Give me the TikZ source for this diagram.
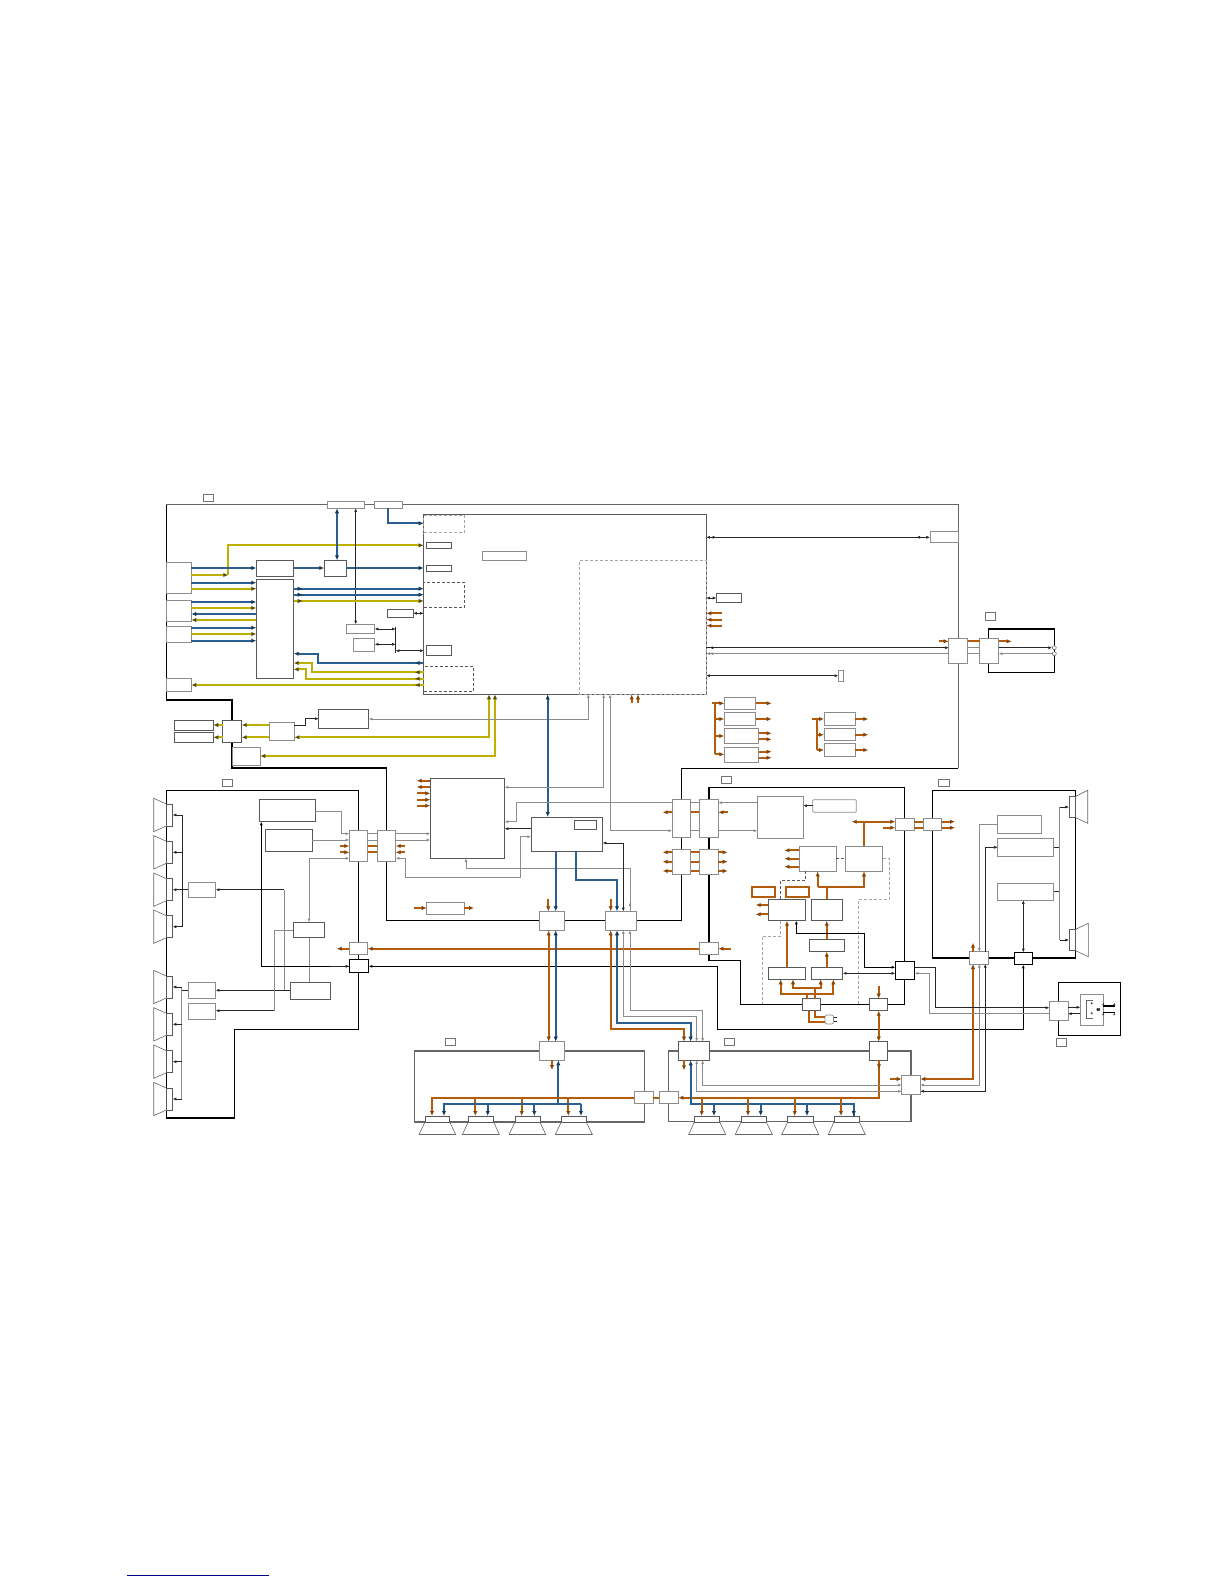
\documentclass[tikz,border=0pt]{standalone}
\usepackage{xcolor}
\usetikzlibrary{arrows.meta, fit, decorations.markings}
\definecolor{bbluec}{HTML}{2B5F91}
\definecolor{byelc}{HTML}{BFB000}
\definecolor{borgc}{HTML}{B35C0C}
\tikzset{
    >={Latex[length=3.6pt,width=3pt]},
    block/.style={rectangle, draw=black!65, fill=white, line width=0.7pt, inner sep=0pt, outer sep=0pt},
    hblock/.style={block, draw=black, line width=1pt},
    gblock/.style={block, draw=black!45},
    oblock/.style={block, draw=borgc, line width=1.8pt},
    tagbox/.style={block, draw=black!55},
    dbox/.style={rectangle, draw=black!65, densely dashed, line width=0.7pt, inner sep=0pt, outer sep=0pt},
    gdbox/.style={dbox, draw=black!35},
    mag/.style={block},
    cone/.style={draw=black!60, line width=0.6pt},
    frame/.style={draw=black, line width=1.2pt},
    gframe/.style={draw=black!60, line width=1.5pt},
    wire/.style={draw=black!85, line width=0.6pt},
    gwire/.style={draw=black!45, line width=0.8pt},
    bbus/.style={draw=bbluec, line width=1.8pt, >={Latex[length=5pt,width=4.4pt,color=bbluec!60!black]}},
    ybus/.style={draw=byelc, line width=1.7pt, >={Latex[length=5pt,width=4.4pt,color=byelc!45!black]}},
    obus/.style={draw=borgc, line width=1.8pt, >={Latex[length=5pt,width=4.4pt,color=borgc!75!black]}},
    dashw/.style={draw=black!65, densely dashed, line width=0.7pt},
    gdashw/.style={draw=black!35, densely dashed, line width=0.8pt},
    leadtip/.style={postaction={decorate, decoration={markings, mark=at position 9pt with {\arrow{>}}}}},
    dubtip/.style={postaction={decorate, decoration={markings, mark=at position 10pt with {\arrow{>}}, mark=at position -10pt with {\arrow{<}}}}},
}

\begin{document}
\begin{tikzpicture}[x=1pt, y=-1pt]
    \useasboundingbox (0,0) rectangle (1224,1584);

    \draw [gframe] (166.3,504.7) -- (958.3,504.7) -- (958.3,768.3);
    \draw [frame] (166.3,504.7) -- (166.3,700) -- (232,700) -- (232,768) -- (386.7,768) -- (386.7,920.7) -- (681.7,920.7) -- (681.7,768.3) -- (958.3,768.3);
    \draw [frame] (166.3,790.3) -- (358.7,790.3) -- (358.7,1029.3) -- (234.7,1029.3) -- (234.7,1118) -- (166.3,1118) -- cycle;
    \draw [frame] (709,787.3) -- (904.7,787.3) -- (904.7,1004.3) -- (740.7,1004.3) -- (740.7,960.3) -- (709,960.3) -- cycle;
    \draw [frame] (932.3,790.3) rectangle (1075.7,958);
    \draw [frame] (988.7,629) rectangle (1054.3,672.3);
    \draw [frame] (1058.3,982.3) rectangle (1120.7,1035.7);
    \draw [gframe] (414.3,1051) rectangle (644.3,1122);
    \draw [gframe] (668.3,1051) rectangle (911,1121.7);

    \node [tagbox, fit={(203.3,494.3) (213.7,501.7)}] (tagmain) {};
    \node [tagbox, fit={(222,779.3) (232.3,786.3)}] (tagleft) {};
    \node [tagbox, fit={(721.3,776.3) (731.7,783.7)}] (tagpower) {};
    \node [tagbox, fit={(938.7,779.3) (949,786.3)}] (tagright) {};
    \node [tagbox, fit={(985.7,612.7) (995.7,620.3)}] (tagfront) {};
    \node [tagbox, fit={(1056.7,1038.3) (1066.7,1046.3)}] (tagusb) {};
    \node [tagbox, fit={(445.3,1038.3) (455.7,1045.7)}] (tagrearl) {};
    \node [tagbox, fit={(724.7,1038) (734.7,1045.3)}] (tagrearr) {};

    \node [gblock, fit={(327.3,501.3) (364.7,508.3)}] (conna) {};
    \node [gblock, fit={(374,501.3) (402.3,508.3)}] (connb) {};
    \node [block, fit={(423.7,514.3) (706.3,694.3)}] (soc) {};
    \node [gdbox, fit={(423.7,515.7) (464.3,532.7)}] (socda) {};
    \node [dbox, fit={(423.7,582.3) (464.3,607.3)}] (socdb) {};
    \node [dbox, fit={(423.7,666.3) (473.3,691.3)}] (socdc) {};
    \node [gdbox, fit={(579,560.3) (706.3,694.3)}] (socdd) {};
    \node [block, fit={(426.7,542) (451.7,548.7)}] (pina) {};
    \node [block, fit={(426.7,565) (451.7,571.7)}] (pinb) {};
    \node [block, fit={(426.7,645.7) (451.7,655.7)}] (pinc) {};
    \node [gblock, fit={(482.7,551.3) (526.3,560.7)}] (memo) {};
    \node [block, fit={(387.3,609.3) (413.3,617.7)}] (flash) {};
    \node [gblock, fit={(346.7,624.3) (374.7,633.3)}] (rama) {};
    \node [gblock, fit={(353,638.3) (374.7,651)}] (ramb) {};
    \node [gblock, fit={(166.3,562.3) (191.3,593.3)}] (ina) {};
    \node [gblock, fit={(166.3,600.3) (191.3,621.7)}] (inb) {};
    \node [gblock, fit={(166.3,626.3) (191.3,642.3)}] (inc) {};
    \node [gblock, fit={(166.3,678.7) (191.3,691.3)}] (ind) {};
    \node [block, fit={(256.3,560.3) (293.7,576.7)}] (tuner) {};
    \node [block, fit={(256.3,579.3) (293.7,678.7)}] (hub) {};
    \node [block, fit={(324.3,560.3) (346.7,576.7)}] (sw) {};
    \node [block, fit={(174.3,720.3) (213.3,730.3)}] (outa) {};
    \node [block, fit={(174.3,732.3) (213.3,742.3)}] (outb) {};
    \node [block, fit={(222.7,720.3) (241.7,742.3)}] (drv) {};
    \node [gblock, fit={(269.3,722) (294.3,740.7)}] (dac) {};
    \node [block, fit={(318.7,709.3) (368.7,728.3)}] (ctl) {};
    \node [gblock, fit={(232.3,747) (260.3,765.3)}] (aux) {};
    \node [gblock, fit={(930,531.3) (958.3,542.7)}] (rj) {};
    \node [block, fit={(716.3,593.3) (741.7,602.3)}] (fpc) {};
    \node [gblock, fit={(838.3,670) (843.7,681.3)}] (jmp) {};
    \node [gblock, fit={(948.7,638.3) (967.7,663)}] (linka) {};
    \node [gblock, fit={(979.7,638.3) (998.7,663)}] (linkb) {};
    \node [circle, draw=black!65, fill=white, minimum size=4pt, inner sep=0pt, line width=0.5pt] (jacka) at (1054.3,647.7) {};
    \node [circle, draw=black!65, fill=white, minimum size=4pt, inner sep=0pt, line width=0.5pt] (jackb) at (1054.3,653.7) {};
    \node [gblock, fit={(724.3,697.3) (755.7,709.7)}] (rega) {};
    \node [gblock, fit={(724.3,712.7) (755.7,725.3)}] (regb) {};
    \node [gblock, fit={(724.3,728.3) (758.7,743.7)}] (regc) {};
    \node [gblock, fit={(724.3,747) (758.7,762.3)}] (regd) {};
    \node [gblock, fit={(824,712.3) (855.3,725.3)}] (rege) {};
    \node [gblock, fit={(824,728.3) (855.3,740.7)}] (regf) {};
    \node [gblock, fit={(824,743.7) (855.3,756.3)}] (regg) {};

    \node [mag, fit={(166.3,804) (172.7,826)}] (lspa) {};
    \node [mag, fit={(166.3,841.3) (172.7,863.3)}] (lspb) {};
    \node [mag, fit={(166.3,878.7) (172.7,900.7)}] (lspc) {};
    \node [mag, fit={(166.3,915.7) (172.7,937.7)}] (lspd) {};
    \node [mag, fit={(166.3,976) (172.7,998)}] (lspe) {};
    \node [mag, fit={(166.3,1013.3) (172.7,1035.3)}] (lspf) {};
    \node [mag, fit={(166.3,1050.7) (172.7,1072.7)}] (lspg) {};
    \node [mag, fit={(166.3,1088) (172.7,1110)}] (lsph) {};
    \draw [cone] (166.3,804) -- (153.7,798.3) -- (153.7,831.7) -- (166.3,826);
    \draw [cone] (166.3,841.3) -- (153.7,835.6) -- (153.7,869) -- (166.3,863.3);
    \draw [cone] (166.3,878.7) -- (153.7,873) -- (153.7,906.4) -- (166.3,900.7);
    \draw [cone] (166.3,915.7) -- (153.7,910) -- (153.7,943.4) -- (166.3,937.7);
    \draw [cone] (166.3,976) -- (153.7,970.3) -- (153.7,1003.7) -- (166.3,998);
    \draw [cone] (166.3,1013.3) -- (153.7,1007.6) -- (153.7,1041) -- (166.3,1035.3);
    \draw [cone] (166.3,1050.7) -- (153.7,1045) -- (153.7,1078.4) -- (166.3,1072.7);
    \draw [cone] (166.3,1088) -- (153.7,1082.3) -- (153.7,1115.7) -- (166.3,1110);

    \node [gblock, fit={(188,882.3) (215.7,897.7)}] (ampf) {};
    \node [gblock, fit={(188,982.7) (215.7,998.7)}] (ampr) {};
    \node [gblock, fit={(188,1003.3) (215.7,1019)}] (amps) {};
    \node [block, fit={(259.3,799.7) (315.3,821.7)}] (dspa) {};
    \node [block, fit={(265.3,829.3) (312.3,851.3)}] (dspb) {};
    \node [block, fit={(293.3,922.3) (324.3,937.7)}] (ctll) {};
    \node [block, fit={(290.3,982) (330.7,999.7)}] (pwrl) {};
    \node [gblock, fit={(349.3,830.3) (367.7,861.7)}] (cna) {};
    \node [gblock, fit={(377.3,830.3) (395.7,861.7)}] (cnb) {};
    \node [gblock, fit={(349.3,942.3) (367.7,954.7)}] (cnc) {};
    \node [hblock, fit={(349.3,959.3) (368.7,972.3)}] (cnd) {};
    \node [block, fit={(430.3,778) (504.7,858.3)}] (host) {};
    \node [block, fit={(531,817) (602.7,851.3)}] (bridge) {};
    \node [block, fit={(574.3,820.3) (596.7,829.3)}] (brmem) {};
    \node [gblock, fit={(426.7,902) (464.3,914.3)}] (filt) {};
    \node [gblock, fit={(539.7,911.3) (564.3,930.3)}] (cne) {};
    \node [gblock, fit={(605,911.3) (636.3,930.3)}] (cnf) {};
    \node [gblock, fit={(672,799.7) (690.7,837)}] (cng) {};
    \node [gblock, fit={(699.3,799.7) (718.3,837)}] (cnh) {};
    \node [gblock, fit={(672,849.3) (690.7,874.3)}] (cni) {};
    \node [gblock, fit={(699.3,849.3) (718.3,874.3)}] (cnj) {};
    \node [gblock, fit={(699.3,942.3) (718.3,954.7)}] (cnk) {};

    \node [gblock, fit={(757.3,796.7) (803.3,838.3)}] (lcd) {};
    \node [gblock, rounded corners=1pt, fit={(812.7,799.7) (856.3,812.3)}] (lcdb) {};
    \node [gblock, fit={(799.3,846.3) (836.3,871.3)}] (chg) {};
    \node [gblock, fit={(845.7,846.3) (882.7,871.3)}] (reg) {};
    \node [oblock, fit={(752.3,887) (774.7,896.7)}] (rlya) {};
    \node [oblock, fit={(786.3,887) (808.7,896.7)}] (rlyb) {};
    \node [block, fit={(768.3,899.3) (805.7,920.7)}] (vola) {};
    \node [block, fit={(811.3,899.3) (842.7,920.7)}] (volb) {};
    \node [block, fit={(809,939.3) (844.7,951.7)}] (fuse) {};
    \node [block, fit={(768.3,967.3) (805.7,979.3)}] (bucka) {};
    \node [block, fit={(811.3,967.3) (842.7,979.3)}] (buckb) {};
    \node [gblock, fit={(895.3,818.3) (914,830.7)}] (cnl) {};
    \node [gblock, fit={(923.3,818.3) (941.7,830.7)}] (cnm) {};
    \node [hblock, fit={(895.3,961.3) (914.7,979.3)}] (cnn) {};
    \node [block, fit={(802.3,998.7) (820.7,1010.7)}] (cnp) {};
    \node [block, fit={(869.3,998.7) (887.7,1010.7)}] (cnq) {};
    \node [gblock, rounded corners=2pt, fit={(825,1015) (833.5,1024)}] (plug) {};

    \node [gblock, fit={(997.7,815.3) (1041.3,833.7)}] (twa) {};
    \node [gblock, fit={(997.7,838.7) (1053.7,856.3)}] (twb) {};
    \node [gblock, fit={(997.7,883) (1053.7,900.3)}] (twc) {};
    \node [gblock, fit={(969.7,951.7) (988.3,964)}] (cnr) {};
    \node [hblock, fit={(1014.3,952.3) (1032.3,964.7)}] (cns) {};
    \node [mag, fit={(1069,796.3) (1075.7,817.7)}] (rspa) {};
    \node [mag, fit={(1069,929.3) (1075.7,950.7)}] (rspb) {};
    \draw [cone] (1075.7,796.3) -- (1087.7,790.3) -- (1087.7,823.3) -- (1075.7,817.7);
    \draw [cone] (1075.7,929.3) -- (1088.3,923.3) -- (1088.3,956.7) -- (1075.7,950.7);
    \node [gblock, fit={(1049.3,1001.3) (1068,1020)}] (usbc) {};
    \node [gblock, fit={(1080.3,994.7) (1103.5,1025)}] (usb) {};
    \draw [cone] (1093,1000.3) -- (1086.7,1000.3) -- (1086.7,1018.7) -- (1093,1018.7);
    \draw [wire, line width=0.4pt] (1091.7,1003.3) circle (0.8) (1091.7,1013.3) circle (0.8);
    \draw [wire, line width=0.4pt, <->] (1096,1009.5) -- (1100.5,1009.5);
    \draw [draw=black, line width=1.5pt] (1102.5,1006) -- (1115,1006) (1102.5,1012.7) -- (1115,1012.7);
    \draw [wire, line width=0.4pt] (1103.3,1004.3) circle (0.8) (1103.3,1014.3) circle (0.8) (1114.3,1004.3) circle (0.8) (1114.3,1014.3) circle (0.8);

    \node [gblock, fit={(539.7,1041.7) (564.3,1060.3)}] (cnt) {};
    \node [gblock, fit={(634.3,1091.3) (653.3,1103.7)}] (cnu) {};
    \node [gblock, fit={(659.3,1091.3) (678.3,1103.7)}] (cnv) {};
    \node [block, fit={(678.3,1041.7) (709.7,1060.3)}] (cnw) {};
    \node [block, fit={(869.3,1041.7) (887.7,1060.3)}] (cnx) {};
    \node [gblock, fit={(901.7,1075.7) (920.3,1094.7)}] (cny) {};
    \node [mag, fit={(425,1116) (449.7,1122)}] (fspa) {};
    \node [mag, fit={(468.3,1116) (493.7,1122)}] (fspb) {};
    \node [mag, fit={(515,1116) (540,1122)}] (fspc) {};
    \node [mag, fit={(561.3,1116) (586.3,1122)}] (fspd) {};
    \node [mag, fit={(694.3,1116) (719.7,1122)}] (fspe) {};
    \node [mag, fit={(741,1116) (766.3,1122)}] (fspf) {};
    \node [mag, fit={(787.7,1116) (813,1122)}] (fspg) {};
    \node [mag, fit={(834,1116) (859.3,1122)}] (fsph) {};
    \draw [cone] (425,1122) -- (419,1134.5) -- (455.7,1134.5) -- (449.7,1122);
    \draw [cone] (468.3,1122) -- (462.3,1134.5) -- (499.3,1134.5) -- (493.7,1122);
    \draw [cone] (515,1122) -- (509,1134.5) -- (545.7,1134.5) -- (540,1122);
    \draw [cone] (561.3,1122) -- (555.3,1134.5) -- (592.3,1134.5) -- (586.3,1122);
    \draw [cone] (694.3,1122) -- (688.7,1134.5) -- (725.7,1134.5) -- (719.7,1122);
    \draw [cone] (741,1122) -- (735.3,1134.5) -- (772.3,1134.5) -- (766.3,1122);
    \draw [cone] (787.7,1122) -- (781.7,1134.5) -- (818.7,1134.5) -- (813,1122);
    \draw [cone] (834,1122) -- (828.3,1134.5) -- (865.3,1134.5) -- (859.3,1122);

    \draw [ybus, ->] (ina.east |- 0,575) -- (228.3,575);
    \draw [ybus, ->] (228.3,575) -- (228.3,545.3) -- (soc.west |- 0,545.3);
    \draw [bbus, ->] (ina.east |- 0,568) -- (tuner.west |- 0,568);
    \draw [bbus, ->] (tuner.east |- 0,568) -- (sw.west |- 0,568);
    \draw [bbus, ->] (sw.east |- 0,568) -- (soc.west |- 0,568);
    \draw [bbus, <->] (conna.south -| 337,0) -- (sw.north -| 337,0);
    \draw [wire, <->] (conna.south -| 355.7,0) -- (rama.north -| 355.7,0);
    \draw [bbus, ->] (connb.south -| 388,0) -- (388,523.3) -- (soc.west |- 0,523.3);
    \draw [bbus, ->] (ina.east |- 0,582.7) -- (hub.west |- 0,582.7);
    \draw [ybus, ->] (ina.east |- 0,588.7) -- (hub.west |- 0,588.7);
    \draw [bbus, ->] (inb.east |- 0,602) -- (hub.west |- 0,602);
    \draw [ybus, ->] (inb.east |- 0,608) -- (hub.west |- 0,608);
    \draw [bbus, ->] (hub.west |- 0,614) -- (inb.east |- 0,614);
    \draw [ybus, ->] (hub.west |- 0,620) -- (inb.east |- 0,620);
    \draw [bbus, ->] (inc.east |- 0,627.7) -- (hub.west |- 0,627.7);
    \draw [ybus, ->] (inc.east |- 0,634) -- (hub.west |- 0,634);
    \draw [bbus, ->] (inc.east |- 0,640.7) -- (hub.west |- 0,640.7);
    \draw [bbus, ->, leadtip] (hub.east |- 0,588.7) -- (soc.west |- 0,588.7);
    \draw [bbus, ->, leadtip] (hub.east |- 0,594.7) -- (soc.west |- 0,594.7);
    \draw [ybus, ->, leadtip] (hub.east |- 0,601) -- (soc.west |- 0,601);
    \draw [bbus, ->, leadtip] (soc.west |- 0,663) -- (318.3,663) -- (318.3,653.7) -- (hub.east |- 0,653.7);
    \draw [ybus, ->, leadtip] (soc.west |- 0,672.3) -- (312,672.3) -- (312,663) -- (hub.east |- 0,663);
    \draw [ybus, ->, leadtip] (soc.west |- 0,678.7) -- (305.7,678.7) -- (305.7,669.3) -- (hub.east |- 0,669.3);
    \draw [ybus, ->, leadtip] (soc.west |- 0,685) -- (ind.east |- 0,685);
    \draw [wire, <->] (flash.east |- 0,613.3) -- (soc.west |- 0,613.3);
    \draw [wire, <->] (rama.east |- 0,629) -- (395.7,629);
    \draw [wire, <->] (ramb.east |- 0,644.3) -- (395.7,644.3);
    \draw [wire] (395.7,626.7) -- (395.7,653.3);
    \draw [wire, <->] (395.7,650.7) -- (soc.west |- 0,650.7);
    \draw [ybus, <->] (soc.south -| 489,0) -- (489,737.3) -- (dac.east |- 0,737.3);
    \draw [ybus, <->] (soc.south -| 495,0) -- (495,756) -- (aux.east |- 0,756);
    \draw [ybus, ->] (dac.west |- 0,725) -- (drv.east |- 0,725);
    \draw [ybus, ->] (dac.west |- 0,737.3) -- (drv.east |- 0,737.3);
    \draw [ybus, ->] (drv.west |- 0,725) -- (outa.east |- 0,725);
    \draw [ybus, ->] (drv.west |- 0,737.3) -- (outb.east |- 0,737.3);
    \draw [wire, ->] (dac.east |- 0,725.7) -- (305.3,725.7) -- (305.3,718.7) -- (ctl.west |- 0,718.7);
    \draw [gwire, <->] (ctl.east |- 0,719) -- (588.3,719) -- (soc.south -| 588.3,0);
    \draw [bbus, <->] (soc.south -| 547.7,0) -- (bridge.north -| 547.7,0);

    \draw [wire, <->, dubtip] (soc.east |- 0,537.3) -- (rj.west |- 0,537.3);
    \draw [wire, <->] (soc.east |- 0,598) -- (fpc.west |- 0,598);
    \draw [obus, <-] (soc.east |- 0,613.3) -- ++(15.7,0);
    \draw [obus, <-] (soc.east |- 0,619.7) -- ++(15.7,0);
    \draw [obus, <-] (soc.east |- 0,625.7) -- ++(15.7,0);
    \draw [obus, ->] (linka.west |- 0,641.3) ++(-9.7,0) -- (linka.west |- 0,641.3);
    \draw [obus] (linka.east |- 0,641.3) -- (linkb.west |- 0,641.3);
    \draw [obus, ->] (linkb.east |- 0,641.3) -- ++(13,0);
    \draw [wire, ->, leadtip] (soc.east |- 0,647.7) -- (linka.west |- 0,647.7);
    \draw [gwire, <-, leadtip] (soc.east |- 0,653.7) -- (linka.west |- 0,653.7);
    \draw [gwire] (linka.east |- 0,647.7) -- (linkb.west |- 0,647.7);
    \draw [gwire] (linka.east |- 0,653.7) -- (linkb.west |- 0,653.7);
    \draw [wire, ->] (linkb.east |- 0,647.7) -- (jacka.west);
    \draw [gwire, <-] (linkb.east |- 0,653.7) -- (jackb.west);
    \draw [wire, <->] (soc.east |- 0,675.7) -- (jmp.west |- 0,675.7);
    \draw [gwire, <->] (soc.south -| 603.7,0) -- (603.7,787.3) -- (host.east |- 0,787.3);
    \draw [gwire, <->] (soc.south -| 610,0) -- (610,830.7) -- (cng.west |- 0,830.7);
    \draw [obus, <-] (soc.south -| 631.7,0) -- ++(0,9);
    \draw [obus, <-] (soc.south -| 638,0) -- ++(0,9);

    \draw [obus] (712.3,703.3) -- (715,703.3) -- (715,754.3);
    \draw [obus, ->] (715,703.3) -- (rega.west |- 0,703.3);
    \draw [obus, ->] (715,719) -- (regb.west |- 0,719);
    \draw [obus, ->] (715,736) -- (regc.west |- 0,736);
    \draw [obus, ->] (715,754.3) -- (regd.west |- 0,754.3);
    \draw [obus, ->] (rega.east |- 0,703.3) -- ++(16,0);
    \draw [obus, ->] (regb.east |- 0,719) -- ++(16,0);
    \draw [obus, ->] (regc.east |- 0,733.3) -- ++(13,0);
    \draw [obus, ->] (regc.east |- 0,739.3) -- ++(13,0);
    \draw [obus, ->] (regd.east |- 0,751.7) -- ++(13,0);
    \draw [obus, ->] (regd.east |- 0,757.7) -- ++(13,0);
    \draw [obus] (812,719) -- (816.7,719) -- (816.7,750);
    \draw [obus, ->] (816.7,719) -- (rege.west |- 0,719);
    \draw [obus, ->] (816.7,734.7) -- (regf.west |- 0,734.7);
    \draw [obus, ->] (816.7,750) -- (regg.west |- 0,750);
    \draw [obus, ->] (rege.east |- 0,719) -- ++(13,0);
    \draw [obus, ->] (regf.east |- 0,734.7) -- ++(13,0);
    \draw [obus, ->] (regg.east |- 0,750) -- ++(13,0);

    \draw [wire] (182.3,815) -- (182.3,926.7);
    \draw [wire, ->] (182.3,815) -- (lspa.east |- 0,815);
    \draw [wire, ->] (182.3,852.3) -- (lspb.east |- 0,852.3);
    \draw [wire, ->] (182.3,889.7) -- (lspc.east |- 0,889.7);
    \draw [wire, ->] (182.3,926.7) -- (lspd.east |- 0,926.7);
    \draw [wire] (ampf.west |- 0,889.7) -- (182.3,889.7);
    \draw [gwire] (181.7,987) -- (181.7,1099);
    \draw [wire, ->] (181.7,987) -- (lspe.east |- 0,987);
    \draw [wire, ->] (181.7,1024.3) -- (lspf.east |- 0,1024.3);
    \draw [wire, ->] (181.7,1061.7) -- (lspg.east |- 0,1061.7);
    \draw [wire, ->] (181.7,1099) -- (lsph.east |- 0,1099);
    \draw [wire] (ampr.west |- 0,990.3) -- (181.7,990.3);
    \draw [wire, ->] (284.3,889.7) -- (ampf.east |- 0,889.7);
    \draw [gwire] (284.3,889.7) -- (284.3,990.3);
    \draw [wire, ->] (pwrl.west |- 0,990.3) -- (ampr.east |- 0,990.3);
    \draw [wire, ->] (274.7,1010.7) -- (amps.east |- 0,1010.7);
    \draw [gwire] (ctll.west |- 0,930.3) -- (274.7,930.3) -- (274.7,1010.7);
    \draw [gwire] (ctll.south -| 309,0) -- (pwrl.north -| 309,0);
    \draw [gwire, <->] (ctll.north -| 309,0) -- (309,858.3) -- (cna.west |- 0,858.3);
    \draw [gwire, ->] (dspa.east |- 0,811.7) -- (341.3,811.7) -- (341.3,833.7) -- (cna.west |- 0,833.7);
    \draw [gwire, ->] (dspb.east |- 0,840) -- (cna.west |- 0,840);
    \draw [frame, <-, line width=0.9pt] (dspa.south -| 261.3,0) -- (261.3,966.3) -- (cnd.west |- 0,966.3);
    \draw [wire, ->] (330,966.3) -- (cnd.west |- 0,966.3);
    \draw [frame, <->, line width=0.9pt] (cnd.east |- 0,966.3) -- (717.3,966.3) -- (717.3,1029.3) -- (1023.3,1029.3) -- (cns.south -| 1023.3,0);
    \draw [obus, ->] (cnc.west |- 0,948.7) -- ++(-12.6,0);
    \draw [obus, <-] (cnc.east |- 0,948.7) -- (cnk.west |- 0,948.7);
    \draw [obus, <-] (cnk.east |- 0,948.7) -- ++(12.4,0);
    \draw [gwire] (cna.east |- 0,833.7) -- (cnb.west |- 0,833.7);
    \draw [gwire] (cna.east |- 0,840) -- (cnb.west |- 0,840);
    \draw [obus] (cna.east |- 0,846) -- (cnb.west |- 0,846);
    \draw [obus] (cna.east |- 0,852.3) -- (cnb.west |- 0,852.3);
    \draw [obus, <-] (cna.west |- 0,846) -- ++(-9.3,0);
    \draw [obus, <-] (cna.west |- 0,852.3) -- ++(-9.3,0);
    \draw [obus, <-] (cnb.east |- 0,846) -- ++(9.3,0);
    \draw [obus, <-] (cnb.east |- 0,852.3) -- ++(9.3,0);
    \draw [gwire, ->] (cnb.east |- 0,833.7) -- (host.west |- 0,833.7);
    \draw [gwire, ->] (cnb.east |- 0,840) -- (host.west |- 0,840);
    \draw [gwire, <->] (cnb.east |- 0,858.3) -- (405.7,858.3) -- (405.7,877.3) -- (520.3,877.3) -- (520.3,836.7) -- (bridge.west |- 0,836.7);

    \draw [obus, ->] (host.west |- 0,780.7) -- ++(-13.6,0);
    \draw [obus, ->] (host.west |- 0,787) -- ++(-13.6,0);
    \draw [obus, <-] (host.west |- 0,793.3) -- ++(-13.6,0);
    \draw [obus, <-] (host.west |- 0,799.7) -- ++(-13.6,0);
    \draw [obus, <-] (host.west |- 0,805.7) -- ++(-13.6,0);
    \draw [wire, ->] (bridge.west |- 0,828.7) -- (host.east |- 0,828.7);
    \draw [gwire, ->] (cng.west |- 0,802.7) -- (516.7,802.7) -- (516.7,821.7) -- (host.east |- 0,821.7);
    \draw [gwire, ->, leadtip] (cnf.north -| 630,0) -- (630,868) -- (466,868) -- (host.south -| 466,0);
    \draw [wire, <->] (bridge.east |- 0,843) -- (623.3,843) -- (cnf.north -| 623.3,0);
    \draw [bbus, ->] (bridge.south -| 555.7,0) -- (cne.north -| 555.7,0);
    \draw [bbus, ->] (bridge.south -| 576.3,0) -- (576.3,880) -- (617,880) -- (cnf.north -| 617,0);
    \draw [obus, <-] (cne.north -| 548.3,0) -- ++(0,-12.6);
    \draw [obus, <-] (cnf.north -| 610.7,0) -- ++(0,-12.6);
    \draw [obus, <-] (filt.west |- 0,908) -- ++(-12.7,0);
    \draw [obus, ->] (filt.east |- 0,908) -- ++(9.7,0);
    \draw [gwire] (cng.east |- 0,802.7) -- (cnh.west |- 0,802.7);
    \draw [gwire] (cng.east |- 0,830.7) -- (cnh.west |- 0,830.7);
    \draw [obus] (cng.east |- 0,812.3) -- (cnh.west |- 0,812.3);
    \draw [obus, ->] (cng.west |- 0,812.3) -- ++(-9.3,0);
    \draw [obus, <-] (cnh.east |- 0,812.3) -- ++(9.4,0);
    \draw [obus] (cni.east |- 0,852.3) -- (cnj.west |- 0,852.3);
    \draw [obus] (cni.east |- 0,861.7) -- (cnj.west |- 0,861.7);
    \draw [obus] (cni.east |- 0,871) -- (cnj.west |- 0,871);
    \draw [obus, ->] (cni.west |- 0,852.3) -- ++(-9.3,0);
    \draw [obus, ->] (cni.west |- 0,861.7) -- ++(-9.3,0);
    \draw [obus, ->] (cni.west |- 0,871) -- ++(-9.3,0);
    \draw [obus, ->] (cnj.east |- 0,852.3) -- ++(9.4,0);
    \draw [obus, ->] (cnj.east |- 0,861.7) -- ++(9.4,0);
    \draw [obus, ->] (cnj.east |- 0,871) -- ++(9.4,0);

    \draw [gwire, ->] (lcd.west |- 0,802.7) -- (cnh.east |- 0,802.7);
    \draw [gwire, ->] (cnh.east |- 0,830.7) -- (lcd.west |- 0,830.7);
    \draw [wire, ->] (lcdb.west |- 0,805.7) -- (lcd.east |- 0,805.7);
    \draw [obus, ->] (chg.west |- 0,850.3) -- ++(-15,0);
    \draw [obus, ->] (chg.west |- 0,858.7) -- ++(-15,0);
    \draw [obus, ->] (chg.west |- 0,866.7) -- ++(-15,0);
    \draw [dashw] (chg.east |- 0,858.3) -- (reg.west |- 0,858.3);
    \draw [gdashw] (reg.east |- 0,858.3) -- (889.3,858.3) -- (889.3,899) -- (858.3,899) -- (858.3,1004.3);
    \draw [obus] (reg.north -| 864,0) -- (864,821.7);
    \draw [obus, <->] (851.7,821.7) -- (cnl.west |- 0,821.7);
    \draw [obus, ->] (882.7,827.7) -- (cnl.west |- 0,827.7);
    \draw [obus] (cnl.east |- 0,821.7) -- (cnm.west |- 0,821.7);
    \draw [obus] (cnl.east |- 0,827.7) -- (cnm.west |- 0,827.7);
    \draw [obus, ->] (cnm.east |- 0,821.7) -- ++(13.3,0);
    \draw [obus, ->] (cnm.east |- 0,827.7) -- ++(13.3,0);
    \draw [obus, ->] (vola.west |- 0,905) -- ++(-12.6,0);
    \draw [obus, ->] (vola.west |- 0,914.3) -- ++(-12.6,0);
    \draw [obus] (volb.north -| 826.7,0) -- (826.7,886.7);
    \draw [obus, ->] (817.7,886.7) -- (chg.south -| 817.7,0);
    \draw [obus, ->] (817.7,886.7) -- (864,886.7) -- (reg.south -| 864,0);
    \draw [dashw] (chg.south -| 805.7,0) -- (805.7,880.3) -- (780.7,880.3) -- (vola.north -| 780.7,0);
    \draw [gdashw] (vola.south -| 780.7,0) -- (780.7,936) -- (762,936) -- (762,1004.3);
    \draw [obus, ->] (fuse.north -| 826.7,0) -- (volb.south -| 826.7,0);
    \draw [obus, ->] (buckb.north -| 826.7,0) -- (fuse.south -| 826.7,0);
    \draw [obus, ->] (bucka.north -| 787,0) -- (vola.south -| 787,0);
    \draw [frame, <->, line width=0.9pt] (vola.south -| 796.3,0) -- (796.3,933.3) -- (864.7,933.3) -- (864.7,967.3) -- (cnn.west |- 0,967.3);
    \draw [wire, <->, line width=0.9pt] (buckb.east |- 0,973.3) -- (cnn.west |- 0,973.3);
    \draw [obus, ->] (cnp.north -| 807.3,0) -- (807.3,994) -- (780.7,994) -- (bucka.south -| 780.7,0);
    \draw [obus, ->] (807.3,994) -- (833.3,994) -- (buckb.south -| 833.3,0);
    \draw [obus, ->] (cnp.north -| 815,0) -- (815,988.3) -- (793,988.3) -- (bucka.south -| 793,0);
    \draw [obus, ->] (815,988.3) -- (820.7,988.3) -- (buckb.south -| 820.7,0);
    \draw [obus] (cnp.south -| 809,0) -- (809,1021.7) -- (plug.west |- 0,1021.7);
    \draw [obus] (cnp.south -| 815,0) -- (815,1016.7) -- (plug.west |- 0,1016.7);
    \draw [wire] (plug.east |- 0,1017.5) -- ++(3.5,0);
    \draw [wire] (plug.east |- 0,1021.5) -- ++(3.5,0);
    \draw [obus, <-] (cnq.north -| 878.7,0) -- ++(0,-13);
    \draw [obus, <->] (cnq.south -| 878.7,0) -- (cnx.north -| 878.7,0);
    \draw [obus, ->, leadtip] (cnx.south -| 879,0) -- (879,1097.7) -- (cnv.east |- 0,1097.7);

    \draw [gwire, ->] (twa.west |- 0,824.3) -- (979.3,824.3) -- (cnr.north -| 979.3,0);
    \draw [wire, <-] (twb.west |- 0,847.3) -- (985.3,847.3) -- (cnr.north -| 985.3,0);
    \draw [obus, ->] (cnr.north -| 973,0) -- ++(0,-9);
    \draw [wire, <->] (twc.south -| 1023.3,0) -- (cns.north -| 1023.3,0);
    \draw [wire] (twb.east |- 0,847.3) -- (1059.7,847.3);
    \draw [wire] (twc.east |- 0,891.7) -- (1059.7,891.7);
    \draw [gwire] (1059.7,807) -- (1059.7,940);
    \draw [wire, ->] (1059.7,807) -- (rspa.west |- 0,807);
    \draw [wire, ->] (1059.7,940) -- (rspb.west |- 0,940);
    \draw [obus, <->] (cnr.south -| 973,0) -- (973,1079) -- (cny.east |- 0,1079);
    \draw [gwire, <->] (cnr.south -| 979.3,0) -- (979.3,1085) -- (cny.east |- 0,1085);
    \draw [wire, <->] (cnr.south -| 985.3,0) -- (985.3,1091.3) -- (cny.east |- 0,1091.3);
    \draw [obus, ->] (cny.west |- 0,1079) ++(-11.7,0) -- (cny.west |- 0,1079);
    \draw [wire, ->] (cnn.east |- 0,967.3) -- (935.3,967.3) -- (935.3,1007.7) -- (usbc.west |- 0,1007.7);
    \draw [gwire, <-] (cnn.east |- 0,973.3) -- (929.3,973.3) -- (929.3,1013.7) -- (usbc.west |- 0,1013.7);
    \draw [wire, ->] (usbc.east |- 0,1007.3) -- (usb.west |- 0,1007.3);
    \draw [wire, <-] (usbc.east |- 0,1013.7) -- (usb.west |- 0,1013.7);

    \draw [obus, <->] (cne.south -| 548.7,0) -- (cnt.north -| 548.7,0);
    \draw [bbus, <->] (cne.south -| 555.7,0) -- (cnt.north -| 555.7,0);
    \draw [obus, ->] (cnt.south -| 552,0) -- ++(0,9.7);
    \draw [bbus, <-] (cnt.south -| 558.3,0) -- (558.3,1104);
    \draw [obus, ->] (cnu.west |- 0,1097.7) -- (432,1097.7) -- (fspa.north -| 432,0);
    \draw [obus, ->] (475.3,1097.7) -- (fspb.north -| 475.3,0);
    \draw [obus, ->] (521.7,1097.7) -- (fspc.north -| 521.7,0);
    \draw [obus, ->] (568.3,1097.7) -- (fspd.north -| 568.3,0);
    \draw [obus] (cnu.east |- 0,1097.7) -- (cnv.west |- 0,1097.7);
    \draw [bbus, ->] (581,1104) -- (fspd.north -| 581,0);
    \draw [bbus, ->] (581,1104) -- (444,1104) -- (fspa.north -| 444,0);
    \draw [bbus, ->] (487.7,1104) -- (fspb.north -| 487.7,0);
    \draw [bbus, ->] (534.3,1104) -- (fspc.north -| 534.3,0);

    \draw [obus, <->] (cnf.south -| 610.7,0) -- (610.7,1029) -- (684,1029) -- (cnw.north -| 684,0);
    \draw [bbus, <->] (cnf.south -| 617,0) -- (617,1023) -- (690.7,1023) -- (cnw.north -| 690.7,0);
    \draw [gwire, <->] (cnf.south -| 623.3,0) -- (623.3,1016.3) -- (696.7,1016.3) -- (cnw.north -| 696.7,0);
    \draw [gwire, <->] (cnf.south -| 630,0) -- (630,1010.7) -- (702.7,1010.7) -- (cnw.north -| 702.7,0);
    \draw [obus, ->] (cnw.south -| 684,0) -- ++(0,10);
    \draw [bbus, <-] (cnw.south -| 690.7,0) -- (690.7,1103.7) -- (853.7,1103.7) -- (fsph.north -| 853.7,0);
    \draw [gwire, <->] (cnw.south -| 696.7,0) -- (696.7,1091.3) -- (cny.west |- 0,1091.3);
    \draw [gwire, <->] (cnw.south -| 702.7,0) -- (702.7,1085) -- (cny.west |- 0,1085);
    \draw [obus, ->] (701.7,1097.7) -- (fspe.north -| 701.7,0);
    \draw [obus, ->] (748,1097.7) -- (fspf.north -| 748,0);
    \draw [obus, ->] (794.7,1097.7) -- (fspg.north -| 794.7,0);
    \draw [obus, ->] (841,1097.7) -- (fsph.north -| 841,0);
    \draw [bbus, ->] (714,1103.7) -- (fspe.north -| 714,0);
    \draw [bbus, ->] (760.7,1103.7) -- (fspf.north -| 760.7,0);
    \draw [bbus, ->] (807,1103.7) -- (fspg.north -| 807,0);
    \draw [bbus, ->] (853.7,1103.7) -- (fsph.north -| 853.7,0);

    \coordinate (weba) at (127.3,1575);
    \coordinate (webb) at (269,1575);
    \draw [draw=blue!55!black, line width=1pt] (weba) -- (webb);
\end{tikzpicture}
\end{document}
